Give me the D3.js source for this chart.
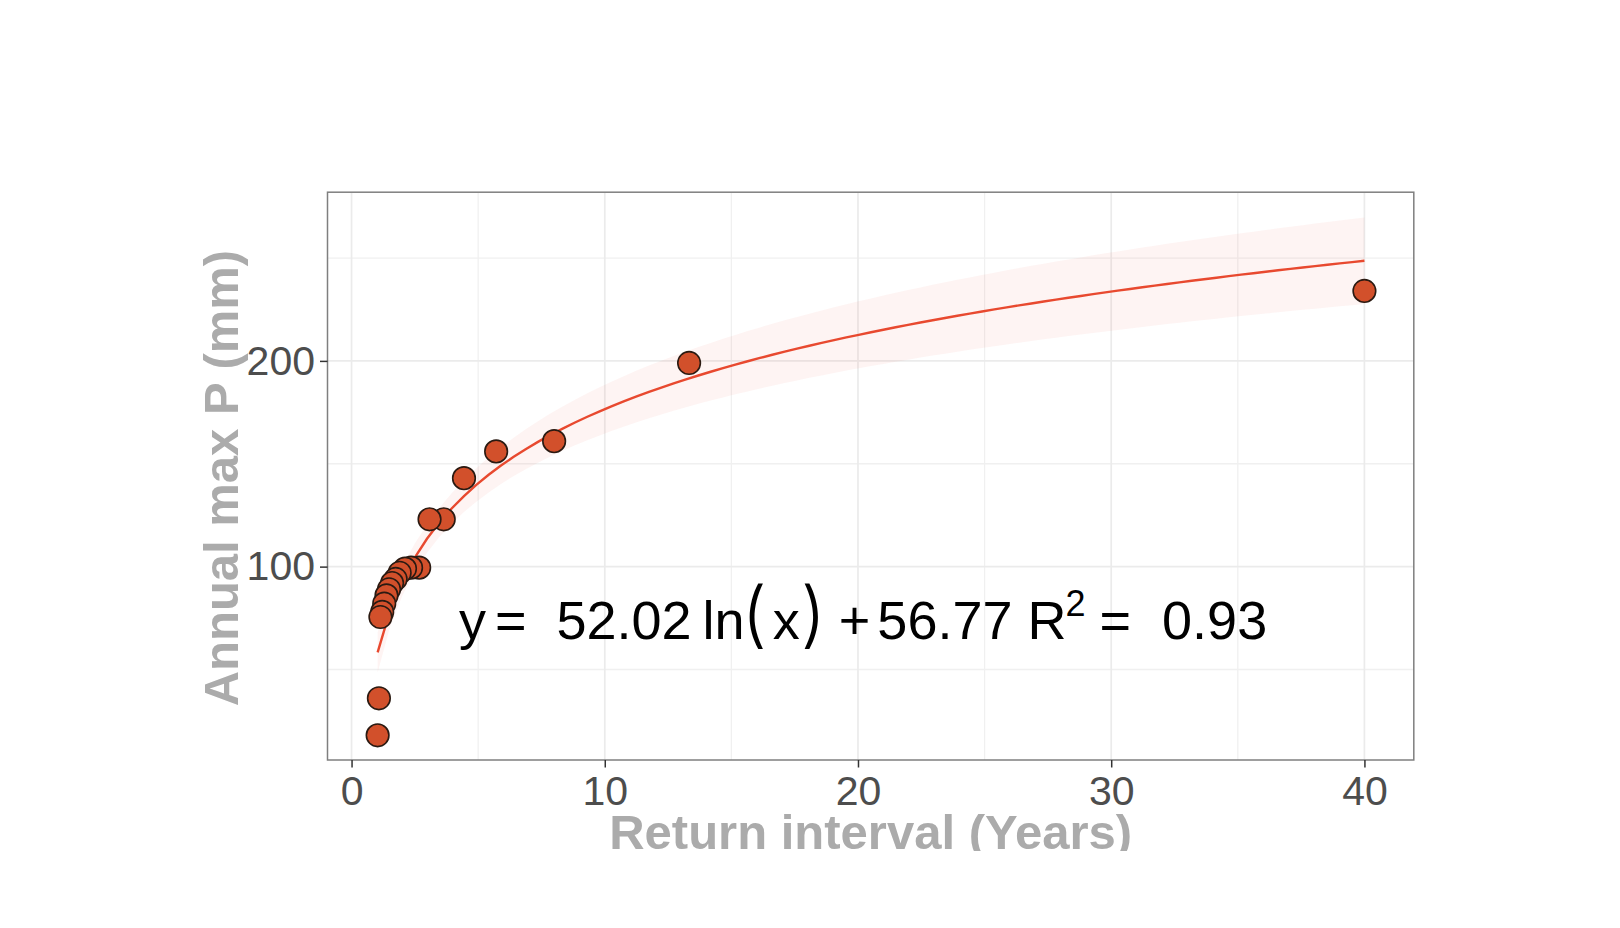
<!DOCTYPE html>
<html>
<head>
<meta charset="utf-8">
<script src="https://cdn.jsdelivr.net/npm/d3@7"></script>
<style>
  body { margin: 0; background: #fff; }
  text { font-family: "Liberation Sans", Arial, Helvetica, sans-serif; }
</style>
</head>
<body>
<div id="chart"></div>
<script>
// return interval (years) and annual max precipitation (mm)
const returnInterval = [40, 13.33, 8, 5.71, 4.44, 3.64, 3.08, 2.67, 2.35, 2.11, 1.9, 1.74, 1.6, 1.48, 1.38, 1.29, 1.21, 1.14, 1.08, 1.03];
const annualMaxP = [234, 199, 161, 156, 143, 123, 123, 99.5, 99.5, 99, 97, 94, 92, 89, 86, 82, 78, 75.5, 36, 18];

// fitted y = a*ln(x) + b as printed on the chart
const fitSlope = 52.02;
const fitIntercept = 56.77;
const fitR2 = 0.93;

const xTicks = [0, 10, 20, 30, 40];
const xMinor = [5, 15, 25, 35];
const yTicks = [100, 200];
const yMinor = [50, 150, 250];
const xLimits = [-0.95, 41.95];
const yLimits = [6, 282];

let W = 1620, H = 928;
let panel = {left: 327.5, right: 1413.8, top: 192.2, bottom: 760};

let svg = d3.select("#chart").append("svg")
  .attr("width", W).attr("height", H);
svg.append("rect").attr("width", W).attr("height", H).attr("fill", "#fff");

let x = d3.scaleLinear().domain(xLimits).range([panel.left, panel.right]);
let y = d3.scaleLinear().domain(yLimits).range([panel.bottom, panel.top]);

let pts = returnInterval.map((d, i) => ({x: d, y: annualMaxP[i]}));

// grid
let grid = svg.append("g");
grid.selectAll("line.xmin").data(xMinor).enter().append("line")
  .attr("x1", d => x(d)).attr("x2", d => x(d))
  .attr("y1", panel.top).attr("y2", panel.bottom)
  .attr("stroke", "#F0F0F0").attr("stroke-width", 1.3);
grid.selectAll("line.ymin").data(yMinor).enter().append("line")
  .attr("y1", d => y(d)).attr("y2", d => y(d))
  .attr("x1", panel.left).attr("x2", panel.right)
  .attr("stroke", "#F0F0F0").attr("stroke-width", 1.3);
grid.selectAll("line.xmaj").data(xTicks).enter().append("line")
  .attr("x1", d => x(d)).attr("x2", d => x(d))
  .attr("y1", panel.top).attr("y2", panel.bottom)
  .attr("stroke", "#EBEBEB").attr("stroke-width", 1.7);
grid.selectAll("line.ymaj").data(yTicks).enter().append("line")
  .attr("y1", d => y(d)).attr("y2", d => y(d))
  .attr("x1", panel.left).attr("x2", panel.right)
  .attr("stroke", "#EBEBEB").attr("stroke-width", 1.7);

// confidence band of the log fit (t 0.975, n-2 df)
let n = pts.length;
let lx = pts.map(p => Math.log(p.x));
let lxMean = d3.mean(lx);
let sxx = d3.sum(lx, v => (v - lxMean) * (v - lxMean));
let sse = d3.sum(pts, p => Math.pow(p.y - (fitSlope * Math.log(p.x) + fitIntercept), 2));
let s = Math.sqrt(sse / (n - 2));
let tCrit = 2.101;

let xr = d3.extent(returnInterval);
let curve = d3.range(0, 81).map(i => {
  let xv = xr[0] + (xr[1] - xr[0]) * i / 80;
  let l = Math.log(xv);
  let fit = fitSlope * l + fitIntercept;
  let se = s * Math.sqrt(1 / n + (l - lxMean) * (l - lxMean) / sxx);
  return {x: xv, fit: fit, lo: fit - tCrit * se, hi: fit + tCrit * se};
});

svg.append("path").datum(curve)
  .attr("d", d3.area().x(d => x(d.x)).y0(d => y(d.lo)).y1(d => y(d.hi)))
  .attr("fill", "#E64B35").attr("fill-opacity", 0.06);

svg.append("path").datum(curve)
  .attr("d", d3.line().x(d => x(d.x)).y(d => y(d.fit)))
  .attr("fill", "none").attr("stroke", "#E8492F").attr("stroke-width", 2.4);

svg.append("g").selectAll("circle").data(pts).enter().append("circle")
  .attr("cx", d => x(d.x)).attr("cy", d => y(d.y)).attr("r", 11.3)
  .attr("fill", "#D2502B").attr("stroke", "#2A1A12").attr("stroke-width", 1.6);

// equation label
let eq = svg.append("text")
  .attr("x", x(20.2)).attr("y", y(65))
  .attr("text-anchor", "middle")
  .attr("font-size", 54).attr("fill", "#000");
eq.append("tspan").text("y");
eq.append("tspan").attr("dx", 9).text("=");
eq.append("tspan").attr("dx", 30).text(fitSlope.toFixed(2));
eq.append("tspan").attr("dx", 11).text("ln");
eq.append("tspan").attr("dx", -3).attr("font-size", 72)
  .attr("font-family", "Inter, Liberation Sans, sans-serif").attr("font-weight", 300).text("(");
eq.append("tspan").attr("dx", 6).text("x");
eq.append("tspan").attr("dx", 1).attr("font-size", 72)
  .attr("font-family", "Inter, Liberation Sans, sans-serif").attr("font-weight", 300).text(")");
eq.append("tspan").attr("dx", 13).text("+");
eq.append("tspan").attr("dx", 7).text(fitIntercept.toFixed(2));
eq.append("tspan").attr("dx", 15).text("R");
eq.append("tspan").attr("dx", -1).attr("dy", -23).attr("font-size", 36).text("2");
eq.append("tspan").attr("dx", 14).attr("dy", 23).text("=");
eq.append("tspan").attr("dx", 31).text(fitR2.toFixed(2));

// panel border
svg.append("rect")
  .attr("x", panel.left).attr("y", panel.top)
  .attr("width", panel.right - panel.left).attr("height", panel.bottom - panel.top)
  .attr("fill", "none").attr("stroke", "#7F7F7F").attr("stroke-width", 1.5);

// axes
let xAxis = svg.append("g")
  .attr("transform", "translate(0," + panel.bottom + ")")
  .call(d3.axisBottom(x).tickValues(xTicks).tickSizeInner(7.5).tickSizeOuter(0).tickPadding(8));
let yAxis = svg.append("g")
  .attr("transform", "translate(" + panel.left + ",0)")
  .call(d3.axisLeft(y).tickValues(yTicks).tickSizeInner(7.5).tickSizeOuter(0).tickPadding(5));
[xAxis, yAxis].forEach(g => {
  g.select(".domain").remove();
  g.selectAll(".tick line").attr("stroke", "#333").attr("stroke-width", 1.5);
  g.selectAll(".tick text").attr("fill", "#4D4D4D").attr("font-size", 41)
    .attr("font-family", "Liberation Sans, Arial, sans-serif");
});

// titles
svg.append("clipPath").attr("id", "bottomClip")
  .append("rect").attr("x", 0).attr("y", 0).attr("width", W).attr("height", 851);
svg.append("text")
  .attr("clip-path", "url(#bottomClip)")
  .attr("x", (panel.left + panel.right) / 2).attr("y", 849)
  .attr("text-anchor", "middle").attr("font-size", 49).attr("font-weight", "bold")
  .attr("fill", "#ABABAB").text("Return interval (Years)");
svg.append("text")
  .attr("transform", "translate(238," + ((panel.top + panel.bottom) / 2 + 2) + ") rotate(-90)")
  .attr("text-anchor", "middle").attr("font-size", 49).attr("font-weight", "bold")
  .attr("fill", "#ABABAB").text("Annual max P (mm)");
</script>
</body>
</html>
